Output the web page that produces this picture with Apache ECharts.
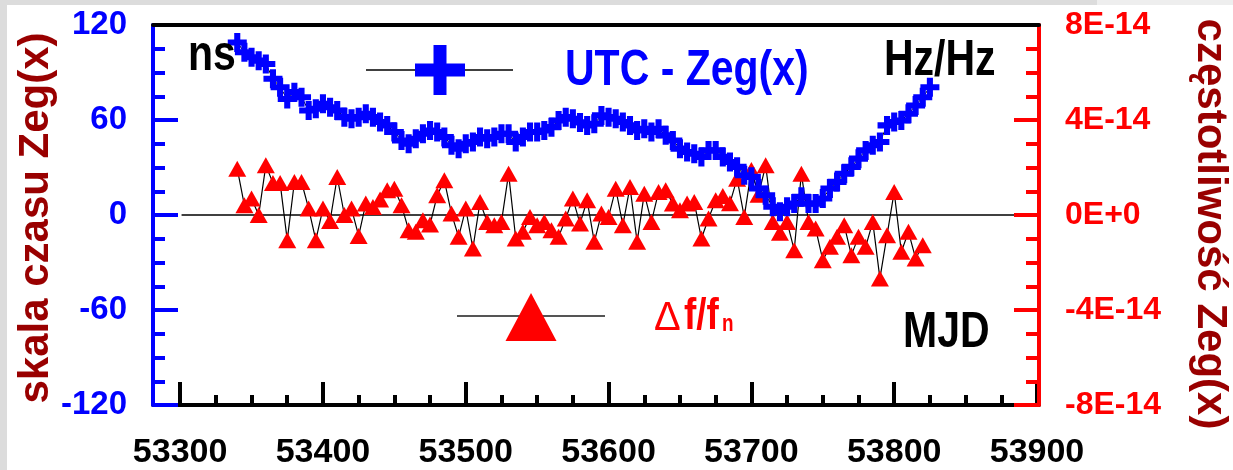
<!DOCTYPE html>
<html><head><meta charset="utf-8">
<script src="https://cdn.jsdelivr.net/npm/echarts@6/dist/echarts.min.js"></script>
<style>html,body{margin:0;padding:0;background:#fff;overflow:hidden}#c{width:1233px;height:470px}</style>
</head><body><div id="c"></div>
<script>
// ---- data ----
const mjd = [53340,53345,53350,53355,53360,53365,53370,53375,53380,53385,53390,53395,53400,53405,53410,53415,53420,53425,53430,53435,53440,53445,53450,53455,53460,53465,53470,53475,53480,53485,53490,53495,53500,53505,53510,53515,53520,53525,53530,53535,53540,53545,53550,53555,53560,53565,53570,53575,53580,53585,53590,53595,53600,53605,53610,53615,53620,53625,53630,53635,53640,53645,53650,53655,53660,53665,53670,53675,53680,53685,53690,53695,53700,53705,53710,53715,53720,53725,53730,53735,53740,53745,53750,53755,53760,53765,53770,53775,53780,53785,53790,53795,53800,53805,53810,53815,53820,53825];
// UTC - Zeg(x) in ns
const utcMinusZeg = [109,102.8,99.6,97.5,95.4,86,80.7,73.3,77.6,74.4,66,67.1,70.2,68.1,66,61.8,60.8,61.8,63.9,61.8,58.7,56.6,52.4,47.1,45,48.2,51.3,53.4,52.4,49.3,44,41.9,45,46.1,49.3,48.2,49.3,51.3,51.3,46.1,49.3,52.4,52.4,53.4,55.5,59.7,61.8,60.8,58.5,56.6,57.6,62.9,61.8,60.8,58.7,56.6,53.4,54.5,52.4,54.5,50.3,47.1,41.9,39.8,38.7,36.7,40.8,40.8,36.7,33.5,30.4,25.1,24.1,16.7,12.5,5.2,2,5.2,7.2,11.5,7.2,7.2,10.4,16.7,20.9,26.1,30.4,35.6,40.8,44,46.1,56.6,58.7,59.7,63.9,69.2,74.4,80.7];
// delta f / f_n in units of 1E-14
const deltaF = [1.95,0.41,0.69,0,2.09,1.35,1.35,-1.06,1.39,1.39,0.27,-1.06,0.27,-0.25,1.6,0,0.27,-0.88,0.48,0.34,0.65,1.04,1.11,0.41,-0.64,-0.71,-0.22,-0.4,0.83,1.46,0.06,-0.92,0.27,-1.41,0.55,-0.29,-0.43,-0.29,1.74,-0.99,-0.71,-0.08,-0.43,-0.29,-0.64,-0.92,-0.15,0.69,-0.36,0.62,-1.13,0.06,-0.08,1.11,-0.43,1.18,-1.13,0.9,-0.29,0.97,1.04,0.48,0.2,0.48,0.55,-0.99,-0.15,0.62,0.8,0.5,1.53,-0.08,1.9,0.85,2.09,-0.29,-0.75,-0.29,-1.48,1.74,-0.29,-0.57,-1.9,-1.34,-0.92,-0.43,-1.69,-0.92,-1.34,-0.29,-2.67,-0.85,0.97,-1.55,-0.71,-1.83,-1.27];
const xLabelValues = [53300,53400,53500,53600,53700,53800,53900];
const xMinorValues = [53325,53350,53375,53425,53450,53475,53525,53550,53575,53625,53650,53675,53725,53750,53775,53825,53850,53875];
const zeroLineSpan = [53301, 53885];

const FONT = '"Liberation Sans", Arial, sans-serif';
const NARROW_SCALE = 0.82;
const X_MIN = 53281, X_MAX = 53901.4;

const chart = echarts.init(document.getElementById('c'), null, {renderer: 'canvas'});

const plusPath = 'path://M34,0H66V34H100V66H66V100H34V66H0V34H34Z';

const redData = deltaF.map((v, i) => [mjd[i], v]);
const blueData = utcMinusZeg.map((v, i) => [mjd[i], v]);

function narrowText(x, y, text, size, color, bold) {
  return {type: 'text', x: x, y: y, scaleX: NARROW_SCALE, scaleY: 1, z: 11,
    style: {text: text, font: (bold ? 'bold ' : '') + size + 'px ' + FONT, fill: color, align: 'left', verticalAlign: 'middle'}};
}

const option = {
  animation: false,
  backgroundColor: '#ffffff',
  grid: {left: 153, right: 194, top: 25, bottom: 63, containLabel: false},
  xAxis: [
    {type: 'value', min: X_MIN, max: X_MAX, position: 'bottom', z: 1,
     axisLine: {show: true, onZero: false, lineStyle: {color: '#000', width: 4}},
     axisTick: {show: true, inside: true, length: 23, customValues: xLabelValues, lineStyle: {color: '#000', width: 4}},
     axisLabel: {show: true, customValues: xLabelValues, margin: 31, color: '#000', fontFamily: FONT, fontWeight: 'bold', fontSize: 34,
       formatter: v => String(v)},
     splitLine: {show: false}},
    {type: 'value', min: X_MIN, max: X_MAX, position: 'bottom', z: 1,
     axisLine: {show: false, onZero: false},
     axisTick: {show: true, inside: true, length: 10, customValues: xMinorValues, lineStyle: {color: '#000', width: 4}},
     axisLabel: {show: false}, splitLine: {show: false}},
    {type: 'value', min: X_MIN, max: X_MAX, position: 'top', z: 5,
     axisLine: {show: true, onZero: false, lineStyle: {color: '#000', width: 4}},
     axisTick: {show: false}, axisLabel: {show: false}, splitLine: {show: false}}
  ],
  yAxis: [
    {type: 'value', min: -120, max: 120, interval: 60, position: 'left', z: 3,
     axisLine: {show: true, onZero: false, lineStyle: {color: '#0000ff', width: 4}},
     axisTick: {show: true, inside: true, length: 25, lineStyle: {color: '#0000ff', width: 4}},
     minorTick: {show: true, splitNumber: 4, length: 12, lineStyle: {color: '#0000ff', width: 4}},
     axisLabel: {color: '#0000ff', fontFamily: FONT, fontWeight: 'bold', fontSize: 33, margin: 26},
     splitLine: {show: false}},
    {type: 'value', min: -8, max: 8, interval: 4, position: 'right', z: 3,
     axisLine: {show: true, onZero: false, lineStyle: {color: '#ff0000', width: 4}},
     axisTick: {show: true, inside: true, length: 25, lineStyle: {color: '#ff0000', width: 4}},
     minorTick: {show: true, splitNumber: 4, length: 13, lineStyle: {color: '#ff0000', width: 4}},
     axisLabel: {color: '#ff0000', fontFamily: FONT, fontWeight: 'bold', fontSize: 32, margin: 26,
       formatter: v => v === 0 ? '0E+0' : (v + 'E-14')},
     splitLine: {show: false}}
  ],
  series: [
    {name: 'zero', type: 'line', xAxisIndex: 0, yAxisIndex: 0, z: 1, silent: true,
     data: zeroLineSpan.map(m => [m, 0]), symbol: 'none',
     lineStyle: {color: '#000', width: 1.5}},
    {name: 'df', type: 'line', xAxisIndex: 0, yAxisIndex: 1, z: 2,
     data: redData, symbol: 'triangle', symbolSize: [18, 16], showSymbol: true, showAllSymbol: true,
     itemStyle: {color: '#ff0000'}, lineStyle: {color: '#000', width: 1.2}},
    {name: 'utc', type: 'line', xAxisIndex: 0, yAxisIndex: 0, z: 3,
     data: blueData, symbol: plusPath, symbolSize: 19, showSymbol: true, showAllSymbol: true,
     itemStyle: {color: '#0000ff'}, lineStyle: {color: '#000', width: 1}}
  ],
  graphic: [
    // canvas frame strips
    {type: 'rect', shape: {x: 0, y: 0, width: 7, height: 470}, style: {fill: '#dcdcdc'}, z: 0},
    {type: 'rect', shape: {x: 0, y: 0, width: 1097, height: 5}, style: {fill: '#dcdcdc'}, z: 0},
    {type: 'rect', shape: {x: 1097, y: 0, width: 136, height: 5}, style: {fill: '#eeeeee'}, z: 0},
    // legend: UTC - Zeg(x)
    {type: 'line', shape: {x1: 366, y1: 70, x2: 513, y2: 70}, style: {stroke: '#000', lineWidth: 1.5}, z: 10},
    {type: 'rect', shape: {x: 415, y: 63.5, width: 50, height: 13}, style: {fill: '#0000ff'}, z: 11},
    {type: 'rect', shape: {x: 433.5, y: 45, width: 13, height: 50}, style: {fill: '#0000ff'}, z: 11},
    narrowText(565, 71, 'UTC - Zeg(x)', 50, '#0000ff', true),
    // legend: delta f/fn
    {type: 'line', shape: {x1: 457, y1: 316, x2: 605, y2: 316}, style: {stroke: '#555', lineWidth: 2}, z: 10},
    {type: 'polygon', shape: {points: [[505.5, 341], [531, 293], [556.5, 341]]}, style: {fill: '#ff0000'}, z: 11},
    {type: 'text', x: 654, y: 319, z: 11, style: {text: 'Δ', font: '40px ' + FONT, fill: '#ff0000', align: 'left', verticalAlign: 'middle'}},
    narrowText(684, 317, 'f/f', 45, '#ff0000', true),
    narrowText(722, 325, 'n', 23, '#ff0000', true),
    // unit labels
    narrowText(188, 56, 'ns', 50, '#000', true),
    narrowText(884, 61, 'Hz/Hz', 50, '#000', true),
    narrowText(903, 333, 'MJD', 50, '#000', true),
    // axis titles
    {type: 'text', x: 36, y: 218, rotation: Math.PI / 2, z: 11, style: {text: 'skala czasu Zeg(x)', font: 'bold 42px ' + FONT, fill: '#990000', align: 'center', verticalAlign: 'middle'}},
    {type: 'text', x: 1210, y: 224, rotation: -Math.PI / 2, z: 11, style: {text: 'częstotliwość Zeg(x)', font: 'bold 42px ' + FONT, fill: '#990000', align: 'center', verticalAlign: 'middle'}}
  ]
};
chart.setOption(option);
</script>
</body></html>
